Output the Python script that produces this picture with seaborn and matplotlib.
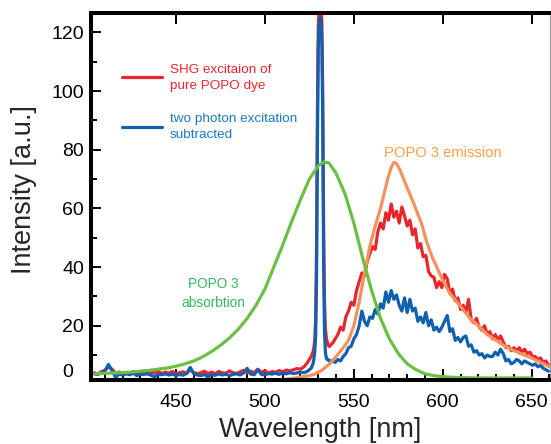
import numpy as np
import pandas as pd
import matplotlib
matplotlib.use("Agg")
import matplotlib.pyplot as plt
import matplotlib.transforms as mtransforms
from matplotlib.ticker import MultipleLocator
import seaborn as sns

# ---------------- data ----------------
# baseline region, 404..526 nm every 2 nm
wl_base = np.arange(404, 527, 2)
red_base = [4.0, 3.5, 4.3, 4.8, 6.0, 5.2, 3.8, 4.2, 3.6, 4.0,
            3.8, 4.4, 3.6, 4.0, 4.6, 3.5, 4.1, 3.9, 4.5, 3.7,
            4.2, 3.8, 4.4, 3.6, 4.0, 4.3, 3.7, 5.0, 4.1, 3.6,
            4.0, 4.5, 3.7, 4.2, 3.6, 4.4, 4.0, 3.8, 4.6, 4.0,
            3.7, 4.3, 4.8, 3.9, 4.5, 4.0, 5.2, 4.2, 4.6, 3.9,
            4.4, 4.1, 4.7, 4.3, 4.9, 4.6, 5.0, 5.4, 5.2, 6.0,
            7.5, 9.5]
blue_base = [3.6, 3.4, 3.9, 4.5, 6.8, 4.8, 2.4, 3.5, 3.2, 3.6,
             3.3, 3.8, 3.0, 3.5, 3.4, 3.7, 3.1, 2.6, 3.4, 3.3,
             3.6, 3.2, 3.5, 3.0, 3.4, 3.1, 3.8, 5.8, 3.6, 3.2,
             3.0, 3.4, 2.5, 3.3, 3.1, 3.6, 3.2, 3.5, 3.0, 3.4,
             3.6, 3.2, 3.9, 5.5, 3.5, 3.3, 5.0, 3.4, 3.2, 3.7,
             3.5, 3.8, 3.4, 3.9, 3.6, 4.0, 3.7, 3.9, 4.2, 4.0,
             4.5, 5.5]

# SHG peak region, 527..537 nm every 0.5 nm
wl_peak = np.arange(527, 537.01, 0.5)
red_peak = [11, 12.5, 15, 22, 45, 92, 122, 128, 130, 129,
            124, 100, 55, 28, 19, 16, 14.5, 13.5, 13, 13, 13.5]
blue_peak = [7, 8.5, 11, 16, 35, 80, 115, 123, 125, 124,
             118, 90, 40, 18, 11, 9, 8.5, 8.5, 8, 8, 8]

# emission region, 538..659.5 nm every 1.5 nm
wl_em = np.arange(538, 660, 1.5)
red_em = [14, 15.5, 17, 19.5, 18.5, 23, 25, 28, 27, 32,
          35, 38, 37, 42, 44.5, 47, 46, 52, 55, 53,
          58.5, 56, 61.5, 57, 59, 55, 60.5, 57.5, 54, 56,
          51, 53, 46.5, 48, 43.5, 44, 38.5, 37, 36.5, 33,
          35, 33, 37.5, 36, 31, 32.5, 28.5, 29.5, 25.5, 27,
          24.5, 29, 22, 21, 22.5, 19.5, 18.5, 20, 17, 18,
          15.5, 17, 15, 16.5, 14.5, 12.5, 13, 11.5, 12.5, 11.5,
          12.5, 11, 12, 10.5, 11, 9.5, 9.5, 8.5, 9, 7.5,
          8, 6.5]
blue_em = [8, 7.5, 8.5, 8, 9.5, 10.5, 12.5, 13, 15.5, 17,
           20, 25, 21.5, 20, 23, 22.5, 25.5, 24, 27.5, 26,
           31.5, 28, 32, 29, 30.5, 27, 25, 29.5, 24.5, 29,
           25, 26, 21.5, 23, 21, 24.5, 20, 22, 18.5, 19.5,
           18, 19.5, 21.5, 23.5, 18, 19, 15, 16, 14.5, 16,
           16.5, 13, 13.5, 11, 11.5, 10, 10.5, 9, 10, 9.5,
           9.5, 11, 10, 12, 10.5, 8, 8.5, 7, 7.5, 8.5,
           8, 7, 8, 7.5, 7, 6.5, 7, 6, 6.5, 5.5,
           5, 4.5]

# POPO 3 absorption
wl_abs = [404, 410, 415, 420, 425, 430, 435, 440, 445, 450,
          455, 460, 465, 470, 475, 480, 485, 490, 495, 500,
          505, 510, 515, 520, 525, 530, 533, 536, 540, 545,
          550, 555, 560, 565, 570, 575, 580, 585, 590, 595,
          600, 610, 620, 630, 640, 650]
absorb = [3.6, 3.8, 3.9, 4.0, 4.2, 4.5, 4.8, 5.2, 5.6, 6.2,
          7.0, 8.0, 9.4, 11.2, 13.3, 15.8, 18.8, 22.5, 27, 32.5,
          40, 47.5, 55.5, 63, 70, 74.5, 75.8, 75.5, 72, 65,
          55, 43, 32, 22.5, 15.5, 10.5, 7, 5, 3.6, 3,
          2.6, 2.3, 2.2, 2.2, 2.2, 2.2]

# POPO 3 emission
wl_emis = [505, 510, 515, 520, 525, 528, 532, 536, 540, 544,
           547, 550, 553, 556, 559, 562, 565, 567, 569, 571,
           572.5, 574, 576, 578, 580, 583, 586, 588, 591, 594,
           597, 600, 604, 608, 612, 616, 620, 625, 630, 635,
           640, 645, 650, 655, 660]
emis = [1.2, 1.6, 2.0, 2.5, 3.0, 3.5, 4.8, 6.8, 9.5, 12.5,
        15, 20, 28, 38, 47, 54, 60, 65, 70, 74,
        75.7, 75.3, 73, 70, 67, 62.7, 58, 55, 48.5, 43.5,
        39.5, 35.5, 31, 28, 25, 22, 20, 17, 15, 13,
        11.5, 10.2, 9, 7.5, 6]

labels_legend = ["SHG excitaion of\npure POPO dye",
                 "two photon excitation\nsubtracted"]

# ---------------- style ----------------
sns.set_style("ticks")
plt.rcParams['font.family'] = ['Liberation Sans', 'DejaVu Sans']

RED = "#e8262d"
BLUE = "#1060b0"
GREEN = "#6cbf45"
ORANGE = "#f4925e"

fig = plt.figure(figsize=(5.51, 4.44), dpi=100)
ax = fig.add_axes([91 / 551, 1 - 380 / 444, 459 / 551, 367 / 444])

wl = np.concatenate([wl_base, wl_peak, wl_em])
df_sig = pd.DataFrame({"wl": wl,
                       "red": red_base + red_peak + red_em,
                       "blue": blue_base + blue_peak + blue_em})
df_abs = pd.DataFrame({"wl": wl_abs, "val": absorb})
df_emis = pd.DataFrame({"wl": wl_emis, "val": emis})

lw = 2.3
sns.lineplot(data=df_sig, x="wl", y="red", ax=ax, color=RED, lw=lw,
             sort=False, estimator=None, label=labels_legend[0])
sns.lineplot(data=df_sig, x="wl", y="blue", ax=ax, color=BLUE, lw=lw,
             sort=False, estimator=None, label=labels_legend[1])
sns.lineplot(data=df_emis, x="wl", y="val", ax=ax, color=ORANGE, lw=lw,
             sort=False, estimator=None)
sns.lineplot(data=df_abs, x="wl", y="val", ax=ax, color=GREEN, lw=lw,
             sort=False, estimator=None)

ax.set_xlim(402.2, 660.3)
ax.set_ylim(1.5, 126.6)

ax.set_xticks([450, 500, 550, 600, 650])
ax.xaxis.set_minor_locator(MultipleLocator(10))
ax.set_yticks([20, 40, 60, 80, 100, 120])
ax.yaxis.set_minor_locator(MultipleLocator(10))

for side in ["left", "bottom", "top"]:
    ax.spines[side].set_linewidth(2.9)
    ax.spines[side].set_color("black")
ax.spines["right"].set_linewidth(0.8)
ax.spines["right"].set_color("#9a9a9a")

TICK_FS = 14
ax.tick_params(axis="both", which="both", direction="in", colors="black",
               labelsize=TICK_FS, width=1.4)
ax.tick_params(axis="x", which="major", length=8, top=True, bottom=True, pad=10)
ax.tick_params(axis="x", which="minor", length=4.5, top=False, bottom=True)
ax.tick_params(axis="y", which="major", length=7, left=True, right=False, pad=5)
ax.tick_params(axis="y", which="minor", length=4.5, left=True, right=False)

# the "0" label sits slightly above the axis bottom in the reference
trans = mtransforms.blended_transform_factory(ax.transAxes, ax.transData)
ax.text(-0.04, 4.0, "0", transform=trans, ha="right", va="center",
        fontsize=TICK_FS, color="black")

ax.set_xlabel("Wavelength [nm]", fontsize=19.5, labelpad=4.5)
ax.set_ylabel("Intensity [a.u.]", fontsize=19.5)
ax.yaxis.set_label_coords(-0.118, 0.518)

leg = ax.legend(handles=ax.lines[:2], labels=labels_legend, loc="upper left",
                bbox_to_anchor=(0.0675, 0.862), frameon=False, fontsize=9.7,
                handlelength=3.0, handletextpad=0.55, labelspacing=1.6,
                borderpad=0, borderaxespad=0)
for txt, c in zip(leg.get_texts(), [RED, "#1a78c8"]):
    txt.set_color(c)
    txt.set_linespacing(1.45)

ax.text(600.0, 78.9, "POPO 3 emission", color="#f6a044", fontsize=10.6,
        ha="center", va="center")
ax.text(471.0, 31.0, "POPO 3\nabsorbtion", color="#34b860", fontsize=9.8,
        ha="center", va="center", linespacing=1.4)

fig.savefig("out.png", dpi=100)
